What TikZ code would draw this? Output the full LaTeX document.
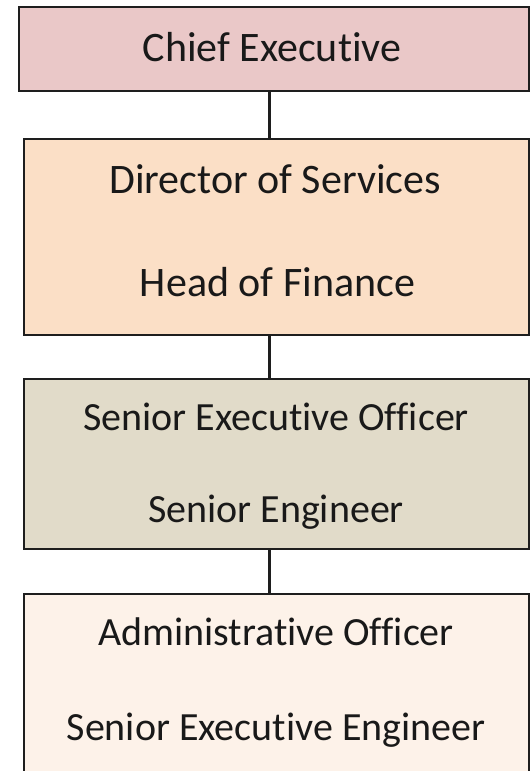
\documentclass[tikz,border=0pt]{standalone}
\usepackage{fontspec}
\setmainfont{Carlito}[Ligatures=NoCommon]
\usepackage{xcolor}
\usepackage{tikz}
\definecolor{chiefpink}{RGB}{234, 200, 200}
\definecolor{directorpeach}{RGB}{251, 223, 198}
\definecolor{seniortan}{RGB}{225, 219, 201}
\definecolor{officercream}{RGB}{253, 242, 233}
\definecolor{linegray}{RGB}{30, 30, 30}
\usetikzlibrary{positioning, calc}

\begin{document}
\begin{tikzpicture}[
    x=1pt, y=1pt,
    rank/.style={rectangle, draw=linegray, line width=2.2pt, minimum width=505pt, inner sep=0pt},
    title/.style={anchor=base, inner sep=0pt, text=black!90, font=\fontsize{42}{50}\selectfont},
    subtitle/.style={title, font=\fontsize{40}{48}\selectfont},
    link/.style={draw=linegray, line width=2.2pt}
]
    \useasboundingbox (0,0) rectangle (531,-771);

    % Chief Executive
    \node[rank, fill=chiefpink, minimum width=510pt, minimum height=84pt] (chief) at (274,-49) {};
    \node[title] (chieftxt) at (272,-61) {Chief Executive};

    % Directors
    \node[rank, fill=directorpeach, minimum height=196pt] (director) at (276.5,-237) {};
    \node[title] (directortxt) at (275,-193) {Director of Services};
    \node[title] (financetxt) at (277.5,-296) {Head of Finance};

    % Senior staff
    \node[rank, fill=seniortan, minimum height=170pt] (senior) at (276.5,-464) {};
    \node[subtitle] (seniortxt) at (276,-430) {Senior Executive Officer};
    \node[subtitle] (engineertxt) at (276,-522) {Senior Engineer};

    % Officers
    \node[rank, fill=officercream, minimum height=200pt] (officer) at (276.5,-694) {};
    \node[subtitle] (admintxt) at (276,-645) {Administrative Officer};
    \node[subtitle] (exectxt) at (276,-740) {Senior Executive Engineer};

    % Links
    \coordinate (spine) at (269.5,0);
    \draw[link] (chief.south -| spine) -- (director.north -| spine);
    \draw[link] (director.south -| spine) -- (senior.north -| spine);
    \draw[link] (senior.south -| spine) -- (officer.north -| spine);
\end{tikzpicture}
\end{document}
